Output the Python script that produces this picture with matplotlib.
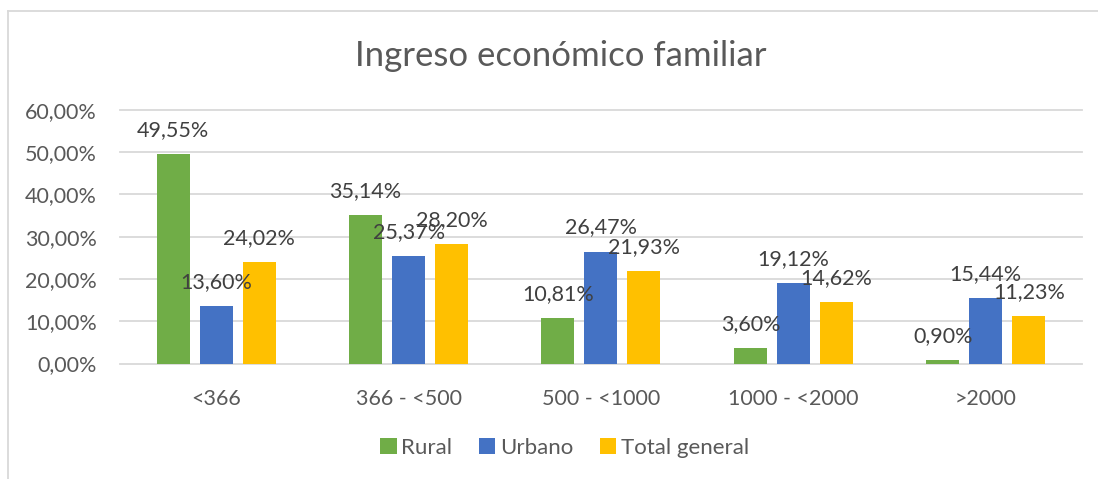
"""
Ingreso economico familiar: grouped bars Rural / Urbano / Total general.
"""

import matplotlib

matplotlib.use("Agg")
import matplotlib.pyplot as plt
from matplotlib.lines import Line2D
import numpy as np

categories = ["<366", "366 - <500", "500 - <1000", "1000 - <2000", ">2000"]
rural = [49.55, 35.14, 10.81, 3.60, 0.90]
urbano = [13.60, 25.37, 26.47, 19.12, 15.44]
total_general = [24.02, 28.20, 21.93, 14.62, 11.23]
series_names = ["Rural", "Urbano", "Total general"]
y_ticks = [0, 10, 20, 30, 40, 50, 60]

colors = ["#70AD47", "#4472C4", "#FFC000"]
text_col = "#595959"
grid_col = "#D9D9D9"
FONT = "Lato"


def _pct(v: float) -> str:
    return f"{v:.2f}%".replace(".", ",")


plt.rcParams["font.family"] = [FONT, "DejaVu Sans"]

fig = plt.figure(figsize=(10.98, 4.79), dpi=100)
ax = fig.add_axes([0.1093, 0.2411, 0.8761, 0.5297])

x = np.arange(len(categories))
width = 0.1715
step = 0.2235
for i, (vals, name) in enumerate(zip([rural, urbano, total_general], series_names)):
    pos = x + (i - 1) * step
    bars = ax.bar(pos, vals, width, color=colors[i], label=name, zorder=3)
    for b, v in zip(bars, vals):
        ax.annotate(
            _pct(v),
            (b.get_x() + b.get_width() / 2, v),
            xytext=(0, 24),
            textcoords="offset pixels",
            ha="center",
            va="center",
            fontsize=15.5,
            color="#404040",
            zorder=5,
        )

ax.set_xlim(-0.5, len(categories) - 0.5)
ax.set_ylim(0, 60)
ax.set_yticks(y_ticks)
ax.set_yticklabels([_pct(t) for t in y_ticks])
ax.set_xticks(x)
ax.set_xticklabels(categories)
ax.tick_params(axis="both", length=0, labelsize=15.5, labelcolor=text_col)
ax.tick_params(axis="y", pad=16.5)
ax.tick_params(axis="x", pad=18)

ax.yaxis.grid(True, color=grid_col, linewidth=1.3, zorder=0)
for gl in ax.get_ygridlines():
    gl.set_clip_on(False)
for s in ax.spines.values():
    s.set_visible(False)

fig.text(0.511, 0.883, "Ingreso económico familiar", ha="center", va="center",
         fontsize=25, color=text_col)

fig.legend(
    loc="center",
    bbox_to_anchor=(0.514, 0.065),
    ncol=3,
    frameon=False,
    fontsize=16,
    labelcolor=text_col,
    handlelength=0.75,
    handleheight=0.75,
    handletextpad=0.2,
    columnspacing=1.2,
)

# chart area border (left and top edges visible in the crop)
fig.add_artist(Line2D([8 / 1098, 8 / 1098], [0, 1 - 11 / 479], transform=fig.transFigure,
                      color=grid_col, linewidth=1.3))
fig.add_artist(Line2D([8 / 1098, 1], [1 - 11 / 479, 1 - 11 / 479], transform=fig.transFigure,
                      color=grid_col, linewidth=1.3))

fig.savefig("out.png", dpi=100)
